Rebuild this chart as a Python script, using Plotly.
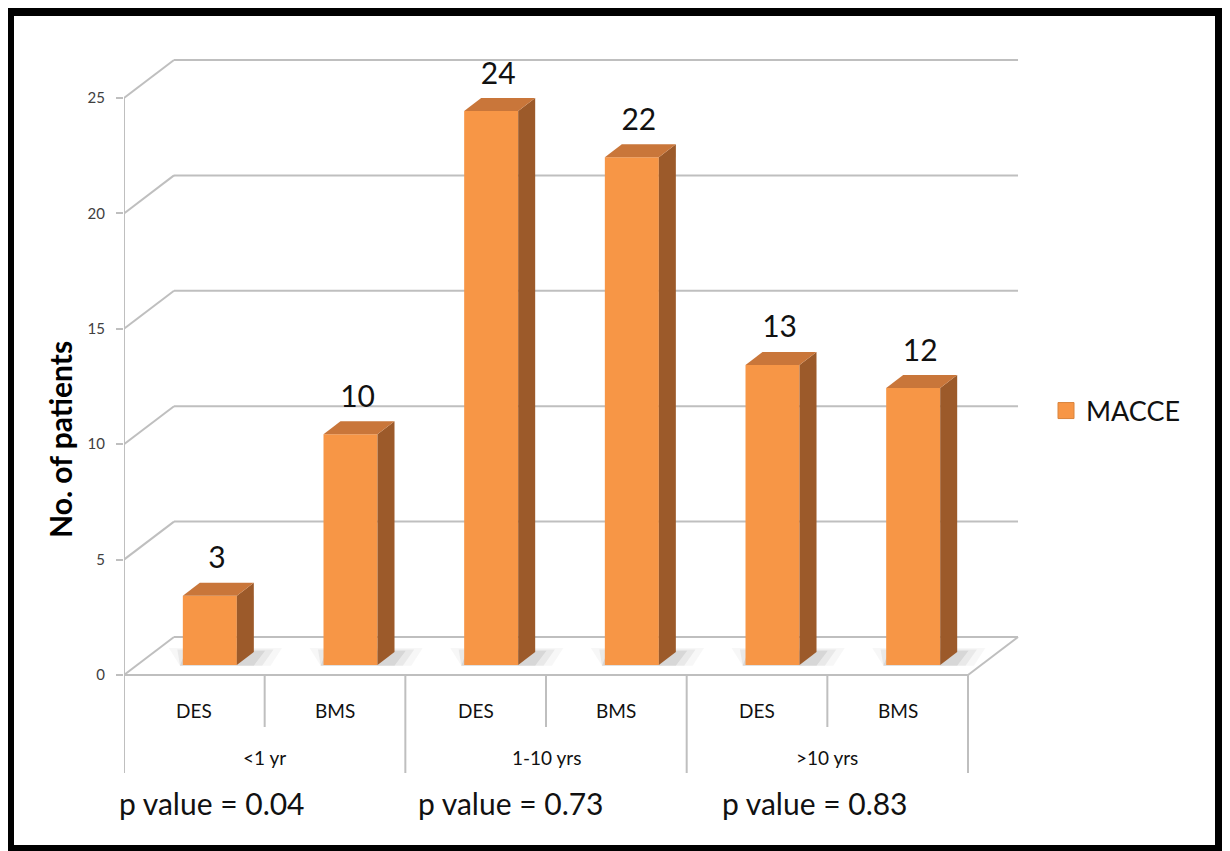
import plotly.graph_objects as go

# ---------------- data ----------------
groups = ["<1 yr", "1-10 yrs", ">10 yrs"]
stents = ["DES", "BMS", "DES", "BMS", "DES", "BMS"]
macce = [3, 10, 24, 22, 13, 12]
p_values = ["0.04", "0.73", "0.83"]
y_ticks = [0, 5, 10, 15, 20, 25]
series_name = "MACCE"

# ---------------- geometry (page pixels, body margin compensated) ----------------
OFF = 8                     # default page body margin
W, H = 1230 - OFF, 851 - OFF
L_PX, R_PX, T_PX, B_PX = 124, 1030, 40, 830
ZERO_PX = 675
CX = 140.67          # px per category
CY = 23.08           # px per unit
DX = 50 / CX         # full depth offset (categories)
DY = 38 / CY         # full depth offset (units)
BAR_W = 0.384
BAR_OFF_X = 15.5 / CX
BAR_BASE = 10 / CY
BAR_DX = 17 / CX
BAR_DY = 13 / CY

xr = [-0.5, -0.5 + (R_PX - L_PX) / CX]
yr = [-(B_PX - ZERO_PX) / CY, (ZERO_PX - T_PX) / CY]

FRONT = "#F79646"
TOP = "#C9763A"
SIDE = "#9C5A2A"
GRID = "#BFBFBF"
FONT = "Lato, Open Sans, sans-serif"

n = len(macce)
xs = list(range(n))

fig = go.Figure()

# front faces (bars)
fig.add_trace(go.Bar(
    x=[i + BAR_OFF_X for i in xs], y=macce, base=BAR_BASE, width=BAR_W,
    marker=dict(color=FRONT, line=dict(width=0)), name=series_name,
    showlegend=False))

# side and top faces
for i, v in enumerate(macce):
    xc = i + BAR_OFF_X
    xl, xrr = xc - BAR_W / 2, xc + BAR_W / 2
    b = BAR_BASE
    t = b + v
    fig.add_trace(go.Scatter(
        x=[xrr, xrr + BAR_DX, xrr + BAR_DX, xrr, xrr],
        y=[b, b + BAR_DY, t + BAR_DY, t, b],
        fill="toself", fillcolor=SIDE, line=dict(width=0), mode="lines",
        hoverinfo="skip", showlegend=False))
    fig.add_trace(go.Scatter(
        x=[xl, xrr, xrr + BAR_DX, xl + BAR_DX, xl],
        y=[t, t, t + BAR_DY, t + BAR_DY, t],
        fill="toself", fillcolor=TOP, line=dict(width=0), mode="lines",
        hoverinfo="skip", showlegend=False))

# value labels
fig.add_trace(go.Scatter(
    x=[i + BAR_OFF_X + 0.05 for i in xs], y=[v + 1.95 for v in macce],
    text=[str(v) for v in macce], mode="text",
    textfont=dict(family=FONT, size=30, color="#111111"),
    hoverinfo="skip", showlegend=False))

# legend entry
fig.add_trace(go.Scatter(
    x=[None], y=[None], mode="markers", name=series_name,
    marker=dict(symbol="square", size=16, color=FRONT,
                line=dict(color="#D9843C", width=1)),
    showlegend=True))

shapes = []
gl = dict(color=GRID, width=2)
# floor shadows (soft, layered)
for i, v in enumerate(macce):
    xc = i + BAR_OFF_X
    xl, xrr = xc - BAR_W / 2, xc + BAR_W / 2
    b = BAR_BASE
    for k, (grow, alpha) in enumerate([(0.0, 0.16), (0.06, 0.10), (0.12, 0.06)]):
        path = "M {a},{b0} L {c},{b0} L {d},{b1} L {e},{b1} Z".format(
            a=xl - 0.02, c=xrr + 0.12 + grow, d=xrr + BAR_DX + 0.08 + grow,
            e=xl + BAR_DX - 0.10 - grow,
            b0=b - 0.03, b1=b + BAR_DY + 0.05 + grow)
        shapes.append(dict(type="path", xref="x", yref="y", path=path,
                           fillcolor="rgba(120,120,120,{})".format(alpha),
                           line=dict(width=0), layer="below"))
# walls gridlines
for v in y_ticks:
    shapes.append(dict(type="line", xref="x", yref="y", x0=-0.5, y0=v,
                       x1=-0.5 + DX, y1=v + DY, line=gl, layer="below"))
    shapes.append(dict(type="line", xref="x", yref="y", x0=-0.5 + DX, y0=v + DY,
                       x1=n - 0.5 + DX, y1=v + DY, line=gl, layer="below"))
# front axis
shapes.append(dict(type="line", xref="x", yref="y", x0=-0.5, y0=0, x1=-0.5, y1=y_ticks[-1],
                   line=gl, layer="below"))
# floor front edge and right edge
shapes.append(dict(type="line", xref="x", yref="y", x0=-0.5, y0=0, x1=n - 0.5, y1=0,
                   line=gl, layer="below"))
shapes.append(dict(type="line", xref="x", yref="y", x0=n - 0.5, y0=0, x1=n - 0.5 + DX, y1=DY,
                   line=gl, layer="below"))
# category separators
inner_bot = -(727 - ZERO_PX) / CY
outer_bot = -(773 - ZERO_PX) / CY
for k in range(n + 1):
    xb = k - 0.5
    bot = outer_bot if k % 2 == 0 else inner_bot
    shapes.append(dict(type="line", xref="x", yref="y", x0=xb, y0=0, x1=xb, y1=bot,
                       line=gl, layer="below"))

# frame (page px -> paper)
def px_x(p):
    return (p - L_PX) / (R_PX - L_PX)

def px_y(p):
    return (B_PX - p) / (B_PX - T_PX)

shapes.append(dict(type="rect", xref="paper", yref="paper",
                   x0=px_x(1223), y0=px_y(851), x1=px_x(1230), y1=px_y(14),
                   fillcolor="#BBBBBB", line=dict(width=0), layer="above"))
shapes.append(dict(type="rect", xref="paper", yref="paper",
                   x0=px_x(10), y0=px_y(849), x1=px_x(1219), y1=px_y(12),
                   line=dict(color="black", width=8), layer="above"))

annotations = []
lab_y = -(710 - ZERO_PX) / CY
grp_y = -(757 - ZERO_PX) / CY
pv_y = -(803 - ZERO_PX) / CY
for i, s in enumerate(stents):
    annotations.append(dict(x=i, y=lab_y, xref="x", yref="y", text=s, showarrow=False,
                            font=dict(family=FONT, size=19, color="#111111")))
for g, name in enumerate(groups):
    annotations.append(dict(x=2 * g + 0.5, y=grp_y, xref="x", yref="y", text=name,
                            showarrow=False, font=dict(family=FONT, size=19, color="#111111")))
pv_x = [0.126, 2.25, 4.41]
for g, pv in enumerate(p_values):
    annotations.append(dict(x=pv_x[g], y=pv_y, xref="x", yref="y", text="p value = " + pv,
                            showarrow=False, xanchor="center",
                            font=dict(family=FONT, size=30, color="#111111")))
annotations.append(dict(x=px_x(60), y=px_y(440), xref="paper", yref="paper",
                        text="<b>No. of patients</b>", textangle=-90, showarrow=False,
                        xanchor="center", yanchor="middle",
                        font=dict(family=FONT, size=30, color="#000000")))

fig.update_layout(
    width=W, height=H,
    margin=dict(l=L_PX - OFF, r=W - (R_PX - OFF), t=T_PX - OFF, b=H - (B_PX - OFF)),
    paper_bgcolor="white", plot_bgcolor="white",
    xaxis=dict(range=xr, showgrid=False, zeroline=False, showticklabels=False,
               showline=False, ticks="", fixedrange=True),
    yaxis=dict(range=yr, showgrid=False, zeroline=False, showline=False,
               tickmode="array", tickvals=y_ticks, ticktext=[str(t) for t in y_ticks],
               ticks="outside", ticklen=7, tickcolor=GRID, tickwidth=2,
               ticklabelstandoff=8,
               tickfont=dict(family=FONT, size=15, color="#404040"), fixedrange=True),
    legend=dict(x=px_x(1046), y=px_y(411), xanchor="left", yanchor="middle",
                font=dict(family=FONT, size=27, color="#111111"),
                bgcolor="rgba(0,0,0,0)", itemwidth=30),
    shapes=shapes, annotations=annotations,
    showlegend=True,
)

fig.write_html("out.html")
